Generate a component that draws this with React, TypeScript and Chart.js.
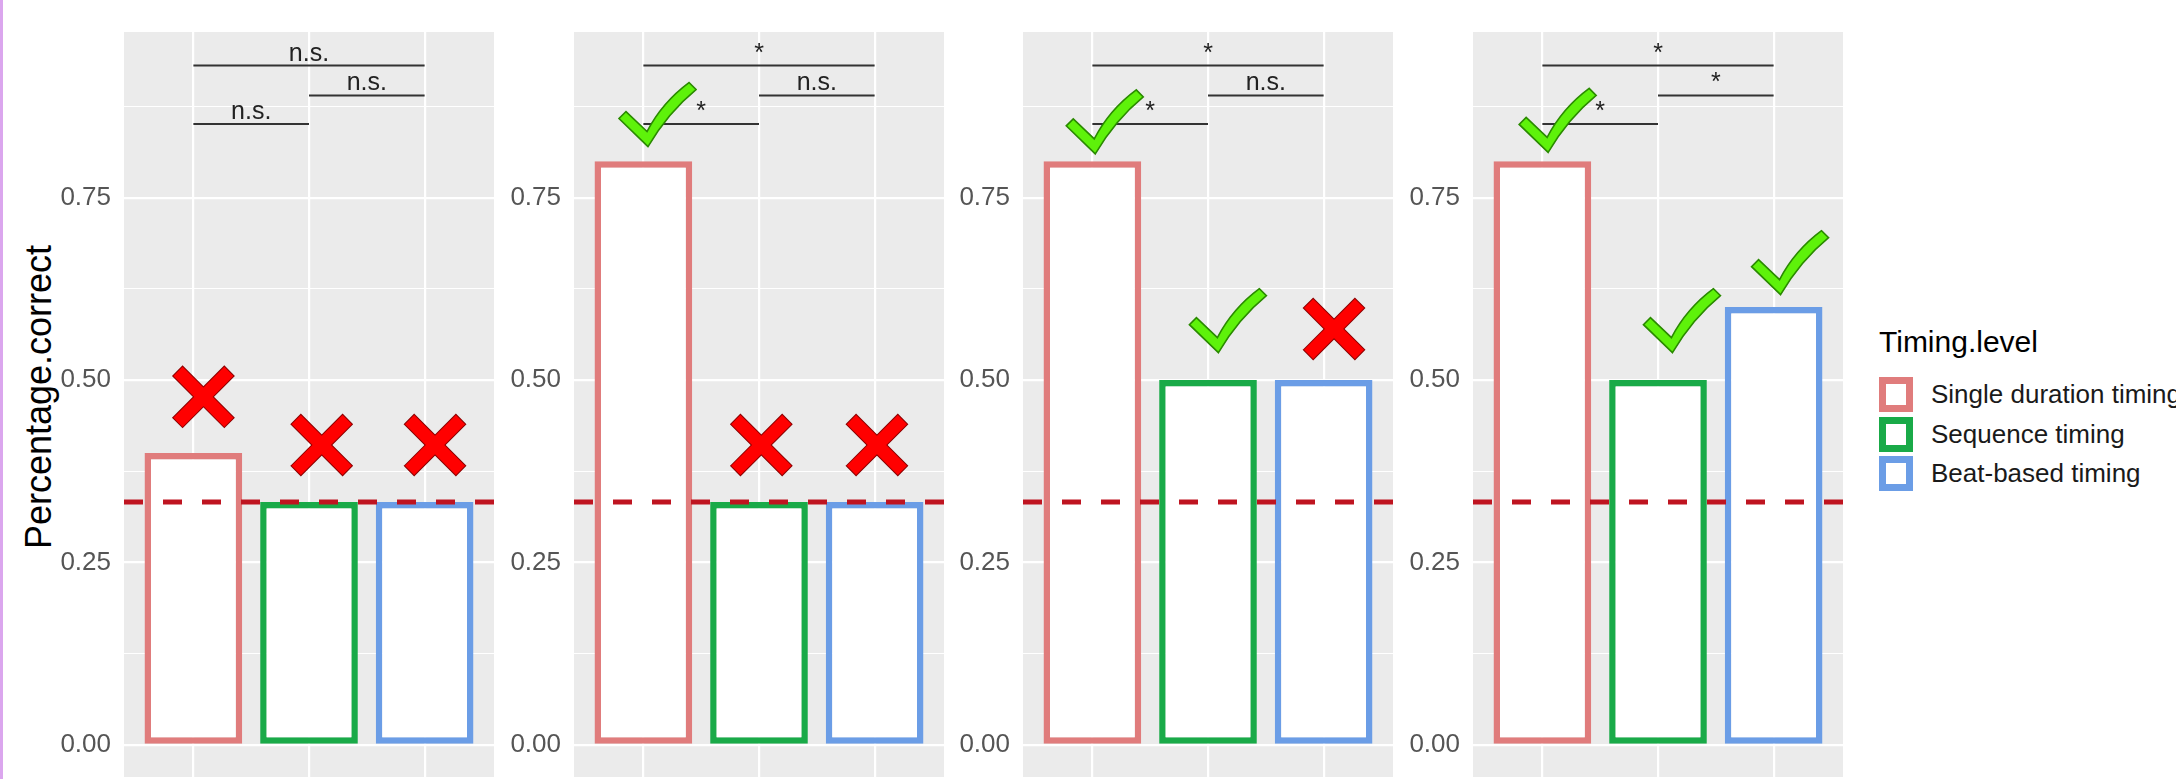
import React, { useEffect, useRef } from "react";
import { Chart, registerables } from "chart.js";

Chart.register(...registerables);

// ---------- data ----------
const categories = ["Single duration timing", "Sequence timing", "Beat-based timing"];
const categoryPositions = [1, 2, 3];

const panel1Values = [0.4, 0.333, 0.333];
const panel2Values = [0.8, 0.333, 0.333];
const panel3Values = [0.8, 0.5, 0.5];
const panel4Values = [0.8, 0.5, 0.6];

const chanceLevel = 0.333;

const yTickValues = [0, 0.25, 0.5, 0.75];
const yTickLabels = ["0.00", "0.25", "0.50", "0.75"];
const yMinorValues = [0.125, 0.375, 0.625, 0.875];

// significance brackets (same layout in every panel)
const bracketFrom = [1, 2, 1];
const bracketTo = [3, 3, 2];
const bracketHeights = [0.931, 0.89, 0.851];
const panel1Signif = ["n.s.", "n.s.", "n.s."];
const panel2Signif = ["*", "n.s.", "*"];
const panel3Signif = ["*", "n.s.", "*"];
const panel4Signif = ["*", "*", "*"];

// correct / incorrect marks above bars
const panel1Marks = ["cross", "cross", "cross"];
const panel2Marks = ["check", "cross", "cross"];
const panel3Marks = ["check", "check", "cross"];
const panel4Marks = ["check", "check", "check"];
const panel1MarkY = [0.477, 0.411, 0.411];
const panel2MarkY = [0.82, 0.411, 0.411];
const panel3MarkY = [0.81, 0.5375, 0.57];
const panel4MarkY = [0.812, 0.5375, 0.617];
const panel1MarkShift = [0.087, 0.11, 0.09];
const panel2MarkShift = [0.04, 0.02, 0.02];
const panel3MarkShift = [0.025, 0.09, 0.09];
const panel4MarkShift = [0.05, 0.125, 0.06];

const legendTitle = "Timing.level";
const yAxisTitle = "Percentage.correct";

// ---------- style ----------
const seriesColors = ["#e07c7c", "#19aa48", "#6b9de6"];
const FONT = "'Liberation Sans', Arial, Helvetica, sans-serif";
const AXIS_W = 70;
const PANEL_W = 370;
const panelLefts = [124, 573.7, 1023.4, 1473.1];

function drawCross(ctx: CanvasRenderingContext2D, cx: number, cy: number) {
  const L = 36;
  const t = 6.5;
  const bars = [Math.PI / 4, -Math.PI / 4].map((ang) => {
    const c = Math.cos(ang);
    const s = Math.sin(ang);
    return [
      [-L, -t],
      [L, -t],
      [L, t],
      [-L, t],
    ].map(([u, v]) => [cx + u * c - v * s, cy + u * s + v * c]);
  });
  const path = (p: number[][]) => {
    ctx.beginPath();
    ctx.moveTo(p[0][0], p[0][1]);
    for (let i = 1; i < p.length; i++) ctx.lineTo(p[i][0], p[i][1]);
    ctx.closePath();
  };
  ctx.lineWidth = 2;
  ctx.strokeStyle = "#8b0000";
  bars.forEach((p) => {
    path(p);
    ctx.stroke();
  });
  ctx.fillStyle = "#ff0000";
  bars.forEach((p) => {
    path(p);
    ctx.fill();
  });
}

function drawCheck(ctx: CanvasRenderingContext2D, x: number, y: number) {
  ctx.beginPath();
  ctx.moveTo(x, y);
  ctx.lineTo(x - 29, y - 28);
  ctx.lineTo(x - 22, y - 35);
  ctx.lineTo(x - 1, y - 15);
  ctx.quadraticCurveTo(x + 14, y - 44, x + 41, y - 64);
  ctx.lineTo(x + 48, y - 57);
  ctx.quadraticCurveTo(x + 20, y - 34, x, y);
  ctx.closePath();
  ctx.fillStyle = "#5ef20a";
  ctx.fill();
  ctx.lineWidth = 1.6;
  ctx.strokeStyle = "#2a8a00";
  ctx.stroke();
}

type PanelProps = {
  values: number[];
  signif: string[];
  marks: string[];
  markY: number[];
  markShift: number[];
  left: number;
};

function Panel({ values, signif, marks, markY, markShift, left }: PanelProps) {
  const ref = useRef<HTMLCanvasElement>(null);
  useEffect(() => {
    const canvas = ref.current!;
    const bgPlugin = {
      id: "panelBg",
      beforeDraw(chart: any) {
        const { ctx, chartArea: a } = chart;
        ctx.save();
        ctx.fillStyle = "#ebebeb";
        ctx.fillRect(a.left, a.top, a.right - a.left, a.bottom - a.top);
        ctx.restore();
      },
    };
    const overlayPlugin = {
      id: "overlay",
      afterDatasetsDraw(chart: any) {
        const { ctx, chartArea: a, scales } = chart;
        const xs = scales.x;
        const ys = scales.y;
        ctx.save();
        ctx.beginPath();
        ctx.rect(a.left, a.top, a.right - a.left, a.bottom - a.top);
        ctx.clip();
        // chance level
        const yc = ys.getPixelForValue(chanceLevel);
        ctx.strokeStyle = "#bf1420";
        ctx.lineWidth = 5;
        ctx.setLineDash([19, 20]);
        ctx.beginPath();
        ctx.moveTo(a.left, yc);
        ctx.lineTo(a.right, yc);
        ctx.stroke();
        ctx.setLineDash([]);
        // brackets
        ctx.strokeStyle = "#333333";
        ctx.lineWidth = 2;
        ctx.fillStyle = "#222222";
        ctx.font = `25px ${FONT}`;
        ctx.textAlign = "center";
        ctx.textBaseline = "alphabetic";
        bracketHeights.forEach((h, k) => {
          const y = ys.getPixelForValue(h);
          const x1 = xs.getPixelForValue(bracketFrom[k]);
          const x2 = xs.getPixelForValue(bracketTo[k]);
          ctx.beginPath();
          ctx.moveTo(x1, y);
          ctx.lineTo(x2, y);
          ctx.stroke();
          ctx.fillText(signif[k], (x1 + x2) / 2, y - 5);
        });
        // marks
        marks.forEach((m, k) => {
          const x = xs.getPixelForValue(categoryPositions[k] + markShift[k]);
          const y = ys.getPixelForValue(markY[k]);
          if (m === "check") drawCheck(ctx, x, y);
          else drawCross(ctx, x, y);
        });
        ctx.restore();
      },
    };
    const allTicks = [...yTickValues, ...yMinorValues].sort((p, q) => p - q);
    const chart = new Chart(canvas, {
      type: "bar",
      data: {
        labels: categories,
        datasets: [
          {
            label: "Percentage.correct",
            data: values.map((v, i) => ({ x: categoryPositions[i], y: v })) as any,
            backgroundColor: "#ffffff",
            borderColor: seriesColors,
            borderWidth: 6.5,
            borderSkipped: false,
            barPercentage: 0.845,
            categoryPercentage: 1,
          },
        ],
      },
      options: {
        animation: false,
        responsive: false,
        maintainAspectRatio: false,
        layout: { padding: { top: 32, bottom: 2, left: 0, right: 0 } },
        plugins: { legend: { display: false }, tooltip: { enabled: false }, title: { display: false } },
        scales: {
          x: {
            type: "linear",
            min: 0.4,
            max: 3.6,
            offset: false,
            afterBuildTicks: (axis: any) => {
              axis.ticks = categoryPositions.map((v) => ({ value: v }));
            },
            afterFit: (s: any) => {
              s.height = 0;
              s.paddingLeft = 0;
              s.paddingRight = 0;
            },
            grid: { color: "#ffffff", lineWidth: 2.2, drawTicks: false, offset: false },
            border: { display: false },
            ticks: { display: false },
          },
          y: {
            type: "linear",
            min: -0.044,
            max: 0.977,
            afterBuildTicks: (axis: any) => {
              axis.ticks = allTicks.map((v) => ({ value: v }));
            },
            afterFit: (s: any) => {
              s.width = AXIS_W;
              s.paddingTop = 0;
              s.paddingBottom = 0;
            },
            grid: {
              color: "#ffffff",
              lineWidth: (c: any) => (c.tick && yTickValues.includes(c.tick.value) ? 2.2 : 1.1),
              drawTicks: false,
            },
            border: { display: false },
            ticks: {
              autoSkip: false,
              padding: 13,
              color: "#555555",
              font: { family: FONT, size: 26 },
              callback: (v: any) => {
                const i = yTickValues.indexOf(Number(v));
                return i >= 0 ? yTickLabels[i] : "";
              },
            },
          },
        },
      },
      plugins: [bgPlugin, overlayPlugin],
    } as any);
    return () => chart.destroy();
  }, []);
  return (
    <canvas
      ref={ref}
      width={AXIS_W + PANEL_W}
      height={779}
      style={{ position: "absolute", left: left - AXIS_W, top: 0, width: AXIS_W + PANEL_W, height: 779 }}
    />
  );
}

const legendRowTops = [377, 416.5, 456];

export default function App() {
  const panels = [
    { values: panel1Values, signif: panel1Signif, marks: panel1Marks, markY: panel1MarkY, markShift: panel1MarkShift },
    { values: panel2Values, signif: panel2Signif, marks: panel2Marks, markY: panel2MarkY, markShift: panel2MarkShift },
    { values: panel3Values, signif: panel3Signif, marks: panel3Marks, markY: panel3MarkY, markShift: panel3MarkShift },
    { values: panel4Values, signif: panel4Signif, marks: panel4Marks, markY: panel4MarkY, markShift: panel4MarkShift },
  ];
  return (
    <div
      style={{
        position: "fixed",
        left: 0,
        top: 0,
        width: 2176,
        height: 779,
        background: "#ffffff",
        overflow: "hidden",
        fontFamily: FONT,
      }}
    >
      <div style={{ position: "absolute", left: 0, top: 0, width: 3, height: 779, background: "#dba6ee" }} />
      <div
        style={{
          position: "absolute",
          left: 38.5 - 200,
          top: 396.5 - 20,
          width: 400,
          height: 40,
          lineHeight: "40px",
          fontSize: 36,
          textAlign: "center",
          color: "#000",
          transform: "rotate(-90deg)",
          whiteSpace: "nowrap",
        }}
      >
        {yAxisTitle}
      </div>
      {panels.map((p, i) => (
        <Panel key={i} left={panelLefts[i]} {...p} />
      ))}
      <div
        style={{
          position: "absolute",
          left: 1879,
          top: 325,
          fontSize: 30,
          lineHeight: "34px",
          color: "#000",
          whiteSpace: "nowrap",
        }}
      >
        {legendTitle}
      </div>
      {categories.map((c, i) => (
        <React.Fragment key={c}>
          <div
            style={{
              position: "absolute",
              left: 1879,
              top: legendRowTops[i],
              width: 34,
              height: 35,
              boxSizing: "border-box",
              border: `7px solid ${seriesColors[i]}`,
              background: "#ffffff",
            }}
          />
          <div
            style={{
              position: "absolute",
              left: 1931,
              top: legendRowTops[i],
              height: 35,
              lineHeight: "35px",
              fontSize: 26,
              color: "#1a1a1a",
              whiteSpace: "nowrap",
            }}
          >
            {c}
          </div>
        </React.Fragment>
      ))}
    </div>
  );
}
